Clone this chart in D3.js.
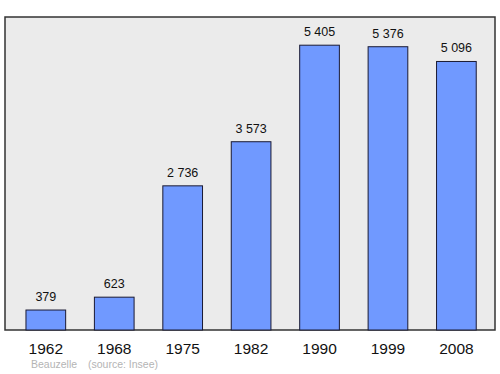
<!DOCTYPE html>
<html>
<head>
<meta charset="utf-8">
<script src="https://cdn.jsdelivr.net/npm/d3@7"></script>
<style>
  body { margin: 0; background: #fff; }
  text { font-family: "Liberation Sans", Arial, sans-serif; }
</style>
</head>
<body>
<svg id="graph" width="500" height="374"></svg>
<script>
const years = [ "1962", "1968", "1975", "1982", "1990", "1999", "2008" ];
const population = [ 379, 623, 2736, 3573, 5405, 5376, 5096 ];
const labels = [ "379", "623", "2 736", "3 573", "5 405", "5 376", "5 096" ];
const place = "Beauzelle";
const source = "(source: Insee)";

const graph = d3.select( "#graph" );
const FRAME = { left: 5, right: 495, top: 17, bottom: 330 };

const data = years.map( ( y, i ) => ( { year: y, value: population[i], label: labels[i] } ) );

const x = d3.scaleBand()
  .domain( years )
  .range( [ 11.6, 490.6 ] )
  .paddingInner( 0.42 )
  .paddingOuter( 0.21 );

const y = d3.scaleLinear()
  .domain( [ 0, 5940 ] )
  .range( [ FRAME.bottom, FRAME.top ] );

// plot frame
graph.append( "rect" )
  .attr( "x", FRAME.left )
  .attr( "y", FRAME.top )
  .attr( "width", FRAME.right - FRAME.left )
  .attr( "height", FRAME.bottom - FRAME.top )
  .attr( "fill", "#ebebeb" )
  .attr( "stroke", "#333" )
  .attr( "stroke-width", 1.5 );

graph.selectAll( "rect.bar" )
  .data( data )
  .enter()
  .append( "rect" )
  .attr( "class", "bar" )
  .attr( "x", d => x( d.year ) )
  .attr( "y", d => y( d.value ) )
  .attr( "width", x.bandwidth() )
  .attr( "height", d => y( 0 ) - y( d.value ) )
  .attr( "fill", "#7099ff" )
  .attr( "stroke", "#1a1a33" )
  .attr( "stroke-width", 1 );

graph.selectAll( "text.val" )
  .data( data )
  .enter()
  .append( "text" )
  .attr( "class", "val" )
  .attr( "x", d => x( d.year ) + x.bandwidth() / 2 )
  .attr( "y", d => y( d.value ) - 9 )
  .attr( "text-anchor", "middle" )
  .style( "font-size", "12.5px" )
  .attr( "fill", "#111" )
  .text( d => d.label );

// x axis labels
const xAxis = d3.axisBottom( x ).tickSize( 0 ).tickPadding( 0 );
const gx = graph.append( "g" )
  .attr( "transform", `translate(0,${FRAME.bottom})` )
  .call( xAxis );
gx.select( ".domain" ).remove();
gx.selectAll( "text" )
  .attr( "dy", null )
  .attr( "y", 24 )
  .style( "font-size", "15.5px" )
  .style( "font-family", "Liberation Sans, Arial, sans-serif" )
  .attr( "fill", "#111" );

graph.append( "text" )
  .attr( "x", 31 )
  .attr( "y", 368 )
  .style( "font-size", "10.5px" )
  .attr( "fill", "#b4b4b4" )
  .text( place );

graph.append( "text" )
  .attr( "x", 88 )
  .attr( "y", 368 )
  .style( "font-size", "10.5px" )
  .attr( "fill", "#b4b4b4" )
  .text( source );
</script>
</body>
</html>
